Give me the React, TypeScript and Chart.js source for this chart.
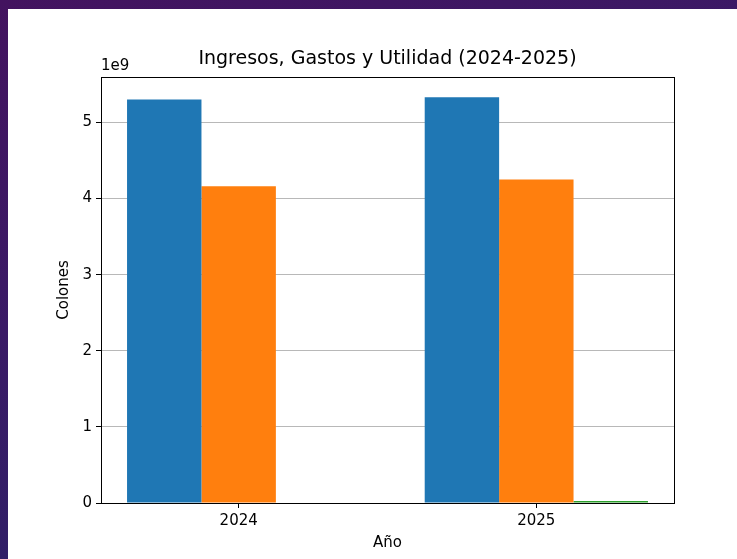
import React, { useEffect, useRef } from "react";
import { Chart, registerables } from "chart.js";

Chart.register(...registerables);

const years = ["2024", "2025"];
const ingresos = [5.3e9, 5.33e9];
const gastos = [4.16e9, 4.25e9];
const utilidad = [0, 0.025e9];
const yTicks = [0, 1, 2, 3, 4, 5];
const yScaleFactor = 1e9;
const titleText = "Ingresos, Gastos y Utilidad (2024-2025)";

const FONT = "DejaVu Sans";

const framePlugin = {
  id: "frame",
  afterDraw(chart: any) {
    const { ctx, chartArea } = chart;
    ctx.save();
    ctx.strokeStyle = "#000";
    ctx.lineWidth = 1;
    ctx.strokeRect(
      Math.round(chartArea.left) + 0.5,
      Math.round(chartArea.top) + 0.5,
      Math.round(chartArea.right - chartArea.left),
      Math.round(chartArea.bottom - chartArea.top)
    );
    ctx.fillStyle = "#000";
    ctx.font = `15px '${FONT}'`;
    ctx.textAlign = "left";
    ctx.textBaseline = "bottom";
    ctx.fillText("1e9", chartArea.left, chartArea.top - 3);
    ctx.font = `19px '${FONT}'`;
    ctx.textAlign = "center";
    ctx.textBaseline = "middle";
    ctx.fillText(titleText, (chartArea.left + chartArea.right) / 2, chartArea.top - 18);
    ctx.restore();
  },
};

export default function App() {
  const ref = useRef<HTMLCanvasElement | null>(null);

  useEffect(() => {
    if (!ref.current) return;
    const maxVal = Math.max(...ingresos, ...gastos, ...utilidad) * 1.05;
    const mk = (vals: number[]) => years.map((_, i) => ({ x: i, y: vals[i] }));
    const chart = new Chart(ref.current, {
      type: "bar",
      data: {
        datasets: [
          { label: "Ingresos", data: mk(ingresos), backgroundColor: "#1f77b4", borderWidth: 0 },
          { label: "Gastos", data: mk(gastos), backgroundColor: "#ff7f0e", borderWidth: 0 },
          { label: "Utilidad", data: mk(utilidad), backgroundColor: "#2ca02c", borderWidth: 0 },
        ] as any,
      },
      options: {
        animation: false,
        responsive: false,
        devicePixelRatio: 1,
        categoryPercentage: 0.75,
        barPercentage: 1,
        layout: { padding: { left: 0, right: 63, top: 68, bottom: 0 } },
        plugins: {
          legend: { display: false },
          tooltip: { enabled: false },
          title: { display: false },
        },
        scales: {
          x: {
            type: "linear",
            min: -0.4625,
            max: 1.4625,
            offset: false,
            afterBuildTicks: (s: any) => {
              s.ticks = years.map((_, i) => ({ value: i }));
            },
            afterFit: (s: any) => {
              s.height = 56;
            },
            ticks: {
              color: "#000",
              font: { family: FONT, size: 15 },
              padding: 4,
              maxRotation: 0,
              callback: (v: any) => years[v] ?? "",
            },
            grid: {
              offset: false,
              drawOnChartArea: false,
              drawTicks: true,
              tickLength: 5,
              tickColor: "#000",
            },
            border: { display: true, color: "#000" },
            title: {
              display: true,
              text: "Año",
              color: "#000",
              font: { family: FONT, size: 15 },
              padding: { top: 0, bottom: 7 },
            },
          },
          y: {
            type: "linear",
            min: 0,
            max: maxVal,
            z: 1,
            afterBuildTicks: (s: any) => {
              s.ticks = yTicks.map((t) => ({ value: t * yScaleFactor }));
            },
            afterFit: (s: any) => {
              s.width = 93;
            },
            ticks: {
              color: "#000",
              font: { family: FONT, size: 15 },
              padding: 4,
              callback: (v: any) => String(Math.round(Number(v) / yScaleFactor)),
            },
            grid: {
              color: "#b8b8b8",
              lineWidth: 1,
              drawTicks: true,
              tickLength: 5,
              tickColor: "#000",
            },
            border: { display: true, color: "#000" },
            title: {
              display: true,
              text: "Colones",
              color: "#000",
              font: { family: FONT, size: 15 },
              padding: { top: 47, bottom: 0 },
            },
          },
        },
      } as any,
      plugins: [framePlugin],
    });
    return () => chart.destroy();
  }, []);

  return (
    <div
      style={{
        position: "fixed",
        left: 0,
        top: 0,
        width: 737,
        height: 559,
        overflow: "hidden",
        background: "linear-gradient(160deg, #43135f 0%, #3a1a66 40%, #262468 100%)",
      }}
    >
      <canvas
        ref={ref}
        width={729}
        height={550}
        style={{ position: "absolute", left: 8, top: 9, width: 729, height: 550, background: "#fff" }}
      />
    </div>
  );
}
